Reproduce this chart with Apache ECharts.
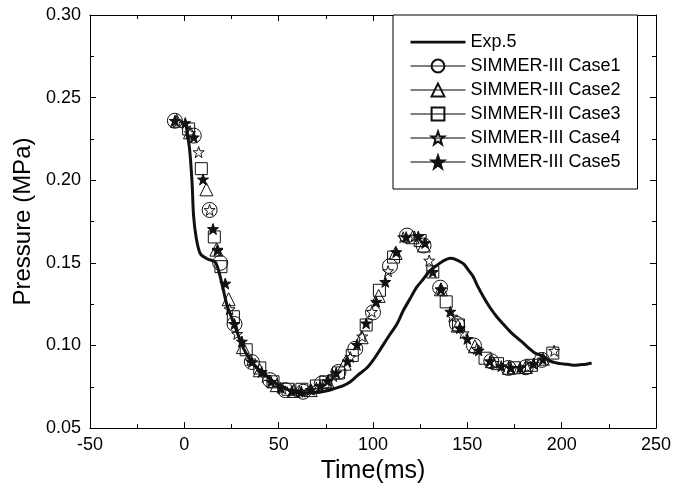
<!DOCTYPE html>
<html>
<head>
<meta charset="utf-8">
<script src="https://cdn.jsdelivr.net/npm/echarts@6/dist/echarts.min.js"></script>
<style>
  html, body { margin: 0; padding: 0; background: #fff; }
  #chart { width: 674px; height: 489px; }
</style>
</head>
<body>
<div id="chart"></div>
<script>
// experiment (solid line)
const expTime = [1, 2.8, 4.1, 4.9, 6.4, 8.5, 12, 16.4, 18, 20, 22.6, 25, 27.9, 31, 35, 39, 43.8, 48, 52.6, 57, 61.4, 66, 70.3, 75, 79, 84, 88, 92, 96.8, 100, 103.8, 108, 112.7, 116, 119.7, 123, 126.8, 130, 133.8, 137, 140.9, 144, 147.9, 151, 153.2, 155, 158.5, 162, 165.6, 169, 172.7, 176, 179.7, 183, 185.9, 190.3, 194, 197.4, 201, 204.4, 207, 209.7, 213, 215.9];
const expPres = [0.233, 0.2186, 0.1986, 0.1785, 0.1645, 0.1555, 0.1525, 0.1505, 0.146, 0.137, 0.1244, 0.117, 0.1084, 0.099, 0.0913, 0.086, 0.0814, 0.0775, 0.0743, 0.0725, 0.0713, 0.0712, 0.0715, 0.0725, 0.0737, 0.0755, 0.078, 0.082, 0.0865, 0.091, 0.0975, 0.105, 0.113, 0.121, 0.1284, 0.135, 0.1404, 0.145, 0.1485, 0.151, 0.1528, 0.152, 0.1495, 0.145, 0.1415, 0.137, 0.1295, 0.123, 0.1174, 0.113, 0.1084, 0.105, 0.1014, 0.098, 0.0954, 0.0934, 0.0905, 0.0894, 0.0888, 0.0884, 0.088, 0.0884, 0.0887, 0.0894];

// SIMMER-III cases (markers only)
const case1Time = [-5, 5, 13.4, 19, 26.6, 35.8, 45.5, 53.5, 63, 72.9, 81.7, 90.6, 100, 109, 118, 126.8, 135.6, 144.5, 153.5, 162.7, 171.8, 181, 189.5];
const case1Pres = [0.236, 0.227, 0.182, 0.150, 0.113, 0.090, 0.079, 0.073, 0.072, 0.077, 0.084, 0.098, 0.120, 0.148, 0.1665, 0.1605, 0.135, 0.113, 0.100, 0.0905, 0.0864, 0.0868, 0.0913];

const case2Time = [-4, 3, 11.7, 17, 23.5, 31, 40, 49, 58, 67, 76, 85, 94, 103, 112, 121, 127, 136, 145, 154, 163, 172, 181, 190];
const case2Pres = [0.236, 0.229, 0.1945, 0.158, 0.128, 0.099, 0.085, 0.076, 0.0725, 0.073, 0.078, 0.089, 0.105, 0.130, 0.156, 0.1655, 0.1605, 0.134, 0.112, 0.0995, 0.0905, 0.0865, 0.087, 0.092];

const case3Time = [2.3, 9, 15.9, 19.4, 26, 32.8, 40, 47, 55, 62.3, 70, 75, 81.7, 89, 96.4, 103.4, 110.9, 125, 131.7, 138.8, 145.3, 159.4, 166, 175, 184, 195.3];
const case3Pres = [0.231, 0.207, 0.1657, 0.1477, 0.1174, 0.0974, 0.0864, 0.078, 0.0735, 0.0735, 0.0755, 0.078, 0.0834, 0.094, 0.1124, 0.1334, 0.1535, 0.1635, 0.1445, 0.1264, 0.1124, 0.0923, 0.089, 0.0865, 0.088, 0.0954];

const case4Time = [-4, 3, 7.6, 13.4, 17.6, 24, 28, 35, 43, 52, 61, 70, 79, 88, 94.3, 99.4, 108, 116, 122, 129.8, 136, 142, 148, 155, 164, 173, 182, 196];
const case4Pres = [0.2355, 0.2285, 0.217, 0.182, 0.1575, 0.122, 0.107, 0.091, 0.081, 0.074, 0.072, 0.0745, 0.0815, 0.093, 0.1055, 0.1204, 0.145, 0.1655, 0.166, 0.1514, 0.134, 0.1175, 0.1074, 0.098, 0.0895, 0.0865, 0.087, 0.0968];

const case5Time = [-5, 0.5, 5, 9.9, 15.2, 17.6, 21.7, 26.6, 30.5, 35.8, 41, 46, 51, 57, 62, 67, 72, 76, 80.5, 86.5, 91.5, 96.4, 101.7, 106.5, 112.3, 117.6, 124, 127.6, 131.7, 136, 141, 146, 150, 156, 162, 168, 173, 178, 185, 190];
const case5Pres = [0.236, 0.2346, 0.226, 0.2005, 0.1705, 0.158, 0.1375, 0.113, 0.1024, 0.090, 0.084, 0.078, 0.0745, 0.0725, 0.0722, 0.0732, 0.0755, 0.0785, 0.0834, 0.0904, 0.1004, 0.1134, 0.1265, 0.1385, 0.1565, 0.1656, 0.166, 0.162, 0.1445, 0.134, 0.1205, 0.1105, 0.104, 0.097, 0.0905, 0.0875, 0.0865, 0.0865, 0.089, 0.0915];

const seriesNames = ['Exp.5', 'SIMMER-III Case1', 'SIMMER-III Case2', 'SIMMER-III Case3', 'SIMMER-III Case4', 'SIMMER-III Case5'];

const FONT = '"Liberation Sans", Arial, sans-serif';
const STAR = 'path://M50,0L61.76,33.82L97.55,34.55L69.02,56.18L79.39,90.45L50,70L20.61,90.45L30.98,56.18L2.45,34.55L38.24,33.82Z';

function pairs(xs, ys) {
  return xs.map((x, i) => [x, ys[i]]);
}

function markerSeries(name, xs, ys, symbol, size, filled) {
  return {
    name: name,
    type: 'line',
    data: pairs(xs, ys),
    symbol: symbol,
    symbolSize: size,
    showAllSymbol: true,
    lineStyle: { opacity: 0, width: 1, color: '#000' },
    itemStyle: {
      color: filled ? '#111' : 'transparent',
      borderColor: '#111',
      borderWidth: 1
    },
    emphasis: { disabled: true },
    animation: false
  };
}

const chart = echarts.init(document.getElementById('chart'));

const legendLine = { opacity: 1, width: 1, color: '#000', type: 'solid' };

const tickStyle = { color: '#000', width: 1 };

const option = {
  backgroundColor: '#fff',
  animation: false,
  textStyle: { fontFamily: FONT },
  grid: { left: 90, right: 17, top: 15, bottom: 58 },
  legend: {
    orient: 'vertical',
    left: 393,
    top: 15,
    backgroundColor: '#fff',
    borderColor: '#000',
    borderWidth: 1,
    borderRadius: 0,
    padding: [18, 17, 18, 17],
    itemWidth: 55,
    itemHeight: 16,
    itemGap: 6,
    textStyle: { fontSize: 18, color: '#000', fontFamily: FONT },
    data: [
      { name: seriesNames[0], icon: 'path://M0,0H100V5H0Z' },
      { name: seriesNames[1], lineStyle: legendLine },
      { name: seriesNames[2], lineStyle: legendLine },
      { name: seriesNames[3], lineStyle: legendLine },
      { name: seriesNames[4], lineStyle: legendLine },
      { name: seriesNames[5], lineStyle: legendLine }
    ]
  },
  xAxis: [{
    type: 'value',
    min: -50,
    max: 250,
    interval: 50,
    name: 'Time(ms)',
    nameLocation: 'middle',
    nameGap: 27,
    nameTextStyle: { fontSize: 25, color: '#000', fontFamily: FONT },
    axisLine: { onZero: false, lineStyle: tickStyle },
    axisTick: { inside: true, length: 6, lineStyle: tickStyle },
    minorTick: { show: true, splitNumber: 2, length: 4, lineStyle: tickStyle },
    axisLabel: { fontSize: 18, color: '#000', margin: 8, fontFamily: FONT },
    splitLine: { show: false }
  }, {
    type: 'value',
    position: 'top',
    min: -50,
    max: 250,
    interval: 50,
    axisLine: { onZero: false, lineStyle: tickStyle },
    axisTick: { inside: true, length: 6, lineStyle: tickStyle },
    minorTick: { show: true, splitNumber: 2, length: 4, lineStyle: tickStyle },
    axisLabel: { show: false },
    splitLine: { show: false }
  }],
  yAxis: [{
    type: 'value',
    min: 0.05,
    max: 0.30,
    interval: 0.05,
    name: 'Pressure (MPa)',
    nameLocation: 'middle',
    nameGap: 50,
    nameTextStyle: { fontSize: 24, color: '#000', fontFamily: FONT },
    axisLine: { show: true, onZero: false, lineStyle: tickStyle },
    axisTick: { show: true, inside: true, length: 6, lineStyle: tickStyle },
    minorTick: { show: true, splitNumber: 2, length: 4, lineStyle: tickStyle },
    axisLabel: {
      fontSize: 18, color: '#000', margin: 9, fontFamily: FONT,
      formatter: v => v.toFixed(2)
    },
    splitLine: { show: false }
  }, {
    type: 'value',
    position: 'right',
    min: 0.05,
    max: 0.30,
    interval: 0.05,
    axisLine: { show: true, onZero: false, lineStyle: tickStyle },
    axisTick: { show: true, inside: true, length: 6, lineStyle: tickStyle },
    minorTick: { show: true, splitNumber: 2, length: 4, lineStyle: tickStyle },
    axisLabel: { show: false },
    splitLine: { show: false }
  }],
  series: [
    {
      name: seriesNames[0],
      type: 'line',
      data: pairs(expTime, expPres),
      symbol: 'none',
      smooth: 0.3,
      lineStyle: { color: '#111', width: 3 },
      itemStyle: { color: '#111' },
      emphasis: { disabled: true }
    },
    markerSeries(seriesNames[1], case1Time, case1Pres, 'circle', 15, false),
    markerSeries(seriesNames[2], case2Time, case2Pres, 'triangle', 13, false),
    markerSeries(seriesNames[3], case3Time, case3Pres, 'rect', 12, false),
    markerSeries(seriesNames[4], case4Time, case4Pres, STAR, 11, false),
    markerSeries(seriesNames[5], case5Time, case5Pres, STAR, 11, true)
  ]
};

chart.setOption(option);
</script>
</body>
</html>
